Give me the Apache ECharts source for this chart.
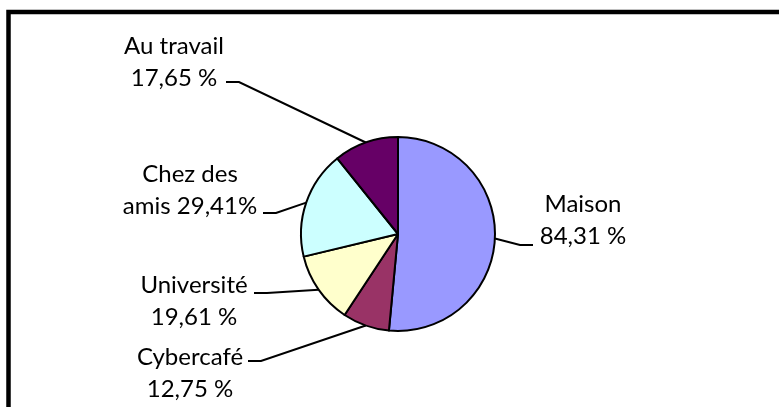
<!DOCTYPE html>
<html>
<head>
<meta charset="utf-8">
<script src="https://cdn.jsdelivr.net/npm/echarts@6/dist/echarts.min.js"></script>
<style>
  html, body { margin: 0; padding: 0; background: #fff; }
  #main { width: 779px; height: 407px; }
</style>
</head>
<body>
<div id="main"></div>
<script>
// données
var categories = ['Maison', 'Cybercafé', 'Université', 'Chez des amis', 'Au travail'];
var values = [84.31, 12.75, 19.61, 29.41, 17.65];
var labelFormats = ['Maison\n{v} %', 'Cybercafé\n{v} %', 'Université\n{v} %', 'Chez des\namis {v}%', 'Au travail\n{v} %'];
var colors = ['#9999FF', '#993366', '#FFFFCC', '#CCFFFF', '#660066'];

// position des étiquettes (centre du bloc) et fin de la ligne de rappel
var labelPos = [
  { x: 583, y: 220, ex: 533, ey: 245, side: 1 },
  { x: 190, y: 373, ex: 248, ey: 361, side: -1 },
  { x: 194, y: 301, ex: 254, ey: 293, side: -1 },
  { x: 190, y: 190, ex: 263, ey: 213, side: -1 },
  { x: 174, y: 62, ex: 226, ey: 82, side: -1 }
];

var chart = echarts.init(document.getElementById('main'));

var data = [];
for (var i = 0; i < categories.length; i++) {
  data.push({ name: categories[i], value: values[i], itemStyle: { color: colors[i] } });
}

chart.setOption({
  animation: false,
  graphic: [{
    type: 'rect',
    shape: { x: 8.5, y: 12, width: 820, height: 500 },
    style: { fill: 'none', stroke: '#000', lineWidth: 4.5 }
  }],
  series: [{
    type: 'pie',
    center: [398, 234],
    radius: 97,
    startAngle: 90,
    clockwise: true,
    avoidLabelOverlap: false,
    data: data,
    itemStyle: { borderColor: '#000', borderWidth: 2 },
    label: {
      show: true,
      position: 'outside',
      fontFamily: 'Lato',
      fontSize: 24,
      lineHeight: 32,
      color: '#000',
      align: 'center',
      formatter: function (p) {
        return labelFormats[p.dataIndex].replace('{v}', p.value.toFixed(2).replace('.', ','));
      }
    },
    labelLine: {
      show: true,
      length: 10,
      length2: 10,
      lineStyle: { color: '#000', width: 2 }
    },
    emphasis: { disabled: true },
    labelLayout: function (params) {
      var L = labelPos[params.dataIndex];
      var start = params.labelLinePoints ? params.labelLinePoints[0] : [L.ex, L.ey];
      return {
        x: L.x,
        y: L.y,
        align: 'center',
        verticalAlign: 'middle',
        labelLinePoints: [start, [L.ex - L.side * 13, L.ey], [L.ex, L.ey]]
      };
    }
  }]
});
</script>
</body>
</html>
